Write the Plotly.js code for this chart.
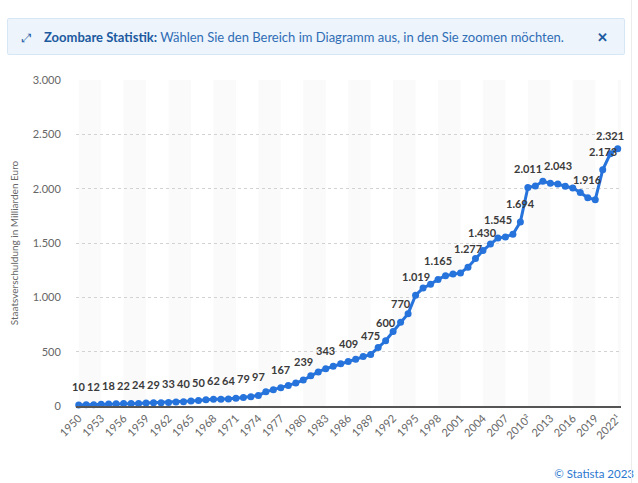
<!DOCTYPE html>
<html>
<head>
<meta charset="utf-8">
<script src="https://cdn.plot.ly/plotly-3.0.1.min.js"></script>
<style>
  html, body { margin: 0; padding: 0; background: #fff; overflow: hidden; }
  body { width: 638px; height: 483px; position: relative; font-family: Lato, "Noto Sans", sans-serif; }
  #g0 { position: absolute; left: 0; top: 0; width: 638px; height: 483px; }
  .banner {
    position: absolute; left: 7px; top: 18px; width: 618px; height: 37px;
    background: #edf4fc; border: 1px solid #d7e6f5; border-radius: 2px;
    color: #2f6db5; font-size: 13px; line-height: 37px; box-sizing: border-box;
  }
  .banner .icon { position: absolute; left: 14px; top: 0; font-size: 12px; color: #1f5fa8; }
  .banner .msg { position: absolute; left: 36px; top: 0; white-space: nowrap; }
  .banner b { color: #1c5aa0; }
  .banner .close { position: absolute; right: 16px; top: 0; font-weight: bold; color: #1c5aa0; font-size: 13px; }
  .footer { position: absolute; right: 4px; top: 467px; font-size: 11.5px; color: #2b78d0; white-space: nowrap; }
  .edge { position: absolute; left: 631px; top: 0; width: 1px; height: 483px; background: #ececec; }
</style>
</head>
<body>
<div id="g0"></div>
<div class="banner">
  <span class="icon">&#x2922;</span>
  <span class="msg"><b>Zoombare Statistik:</b> Wählen Sie den Bereich im Diagramm aus, in den Sie zoomen möchten.</span>
  <span class="close">&#x2715;</span>
</div>
<div class="footer">© Statista 2023</div>
<div class="edge"></div>
<script>
// Staatsverschuldung in Milliarden Euro, 1950-2022
const years = [];
for (let y = 1950; y <= 2022; y++) years.push(y);

const debt = [
  10, 11, 12, 15, 18, 20, 22, 23, 24, 27,      // 1950-1959
  29, 31, 33, 37, 40, 45, 50, 57, 62, 62,      // 1960-1969
  64, 71, 79, 86, 97, 130, 149, 167, 188, 211, // 1970-1979
  239, 279, 314, 343, 366, 388, 409, 431, 456, 475, // 1980-1989
  538, 600, 686, 770, 850, 1019, 1085, 1120, 1165, 1199, // 1990-1999
  1214, 1225, 1277, 1358, 1430, 1490, 1545, 1556, 1580, 1694, // 2000-2009
  2011, 2025, 2068, 2050, 2043, 2022, 2007, 1965, 1916, 1899, // 2010-2019
  2173, 2321, 2368                              // 2020-2022
];

// years whose value is printed above the point
const labelYears = [1950, 1952, 1954, 1956, 1958, 1960, 1962, 1964, 1966, 1968,
  1970, 1972, 1974, 1977, 1980, 1983, 1986, 1989, 1991, 1993, 1995, 1998,
  2002, 2004, 2006, 2009, 2010, 2014, 2018, 2020, 2021];

const tickYears = [];
for (let y = 1950; y <= 2022; y += 3) tickYears.push(y);
const tickText = tickYears.map(y => y === 2010 ? '2010²' : y === 2022 ? '2022¹' : String(y));

function fmt(v) {
  return String(v).replace(/\B(?=(\d{3})+(?!\d))/g, '.');
}

const font = 'Lato, "Noto Sans", sans-serif';

const annotations = labelYears.map(y => ({
  x: y,
  y: debt[years.indexOf(y)],
  text: fmt(debt[years.indexOf(y)]),
  showarrow: false,
  xanchor: 'center',
  yanchor: 'bottom',
  yshift: 10,
  font: {family: font, size: 11, color: '#3a3a3a', weight: 'bold'}
}));

// light column bands between every other pair of ticks
const shapes = [];
for (let i = 0; i < tickYears.length; i += 2) {
  shapes.push({
    type: 'rect', xref: 'x', yref: 'paper',
    x0: tickYears[i], x1: tickYears[i] + 3, y0: 0, y1: 1,
    fillcolor: '#fafafa', line: {width: 0}, layer: 'below'
  });
}

const data = [{
  x: years,
  y: debt,
  type: 'scatter',
  mode: 'lines+markers',
  line: {color: '#2673dc', width: 3},
  marker: {color: '#2673dc', size: 7},
  cliponaxis: false,
  hoverinfo: 'x+y'
}];

const layout = {
  width: 638,
  height: 483,
  margin: {l: 76, r: 17, t: 80, b: 77},
  paper_bgcolor: 'rgba(0,0,0,0)',
  plot_bgcolor: 'rgba(0,0,0,0)',
  separators: ',.',
  showlegend: false,
  font: {family: font, size: 11, color: '#666666'},
  xaxis: {
    range: [1949.64, 2022.44],
    tickvals: tickYears,
    ticktext: tickText,
    tickangle: -45,
    showgrid: false,
    zeroline: false,
    showline: true,
    linecolor: '#555555',
    linewidth: 1.5,
    ticks: '',
    tickfont: {family: font, size: 11, color: '#666666'},
    fixedrange: true
  },
  yaxis: {
    range: [0, 3000],
    dtick: 500,
    tickformat: ',d',
    showgrid: true,
    gridcolor: '#d2d2d2',
    griddash: 'dot',
    gridwidth: 1,
    zeroline: false,
    ticks: 'outside',
    ticklen: 12,
    tickcolor: 'rgba(0,0,0,0)',
    tickfont: {family: font, size: 11, color: '#666666'},
    title: {text: 'Staatsverschuldung in Milliarden Euro', standoff: 12,
            font: {family: font, size: 10, color: '#666666'}},
    fixedrange: true
  },
  shapes: shapes,
  annotations: annotations
};

Plotly.newPlot('g0', data, layout, {displayModeBar: false, staticPlot: false});
</script>
</body>
</html>
